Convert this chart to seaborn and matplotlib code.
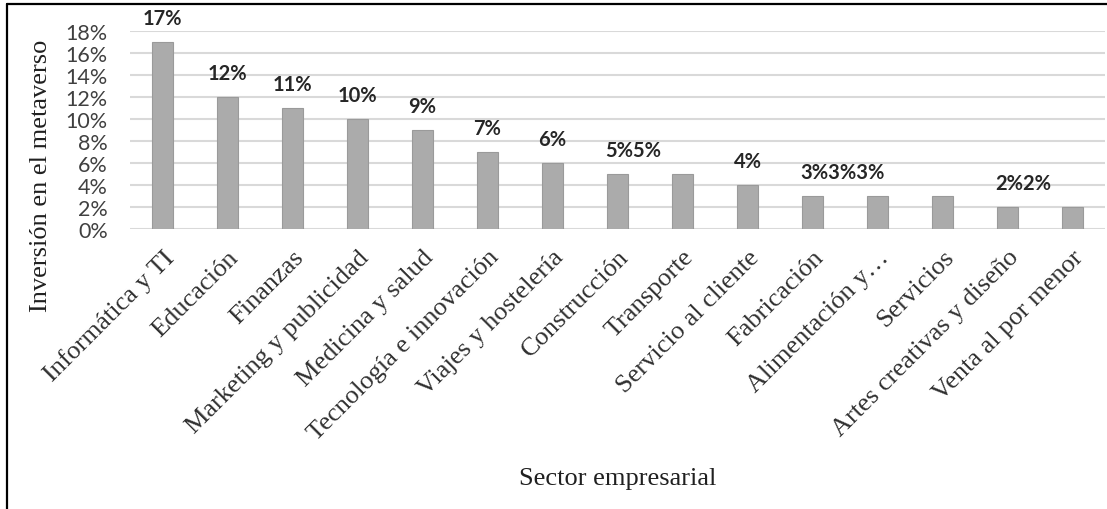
import matplotlib
matplotlib.use("Agg")
import matplotlib.pyplot as plt
import seaborn as sns
from matplotlib.lines import Line2D
from matplotlib.ticker import PercentFormatter

# --- Data ---
sectores = [
    'Informática y TI', 'Educación', 'Finanzas', 'Marketing y publicidad',
    'Medicina y salud', 'Tecnología e innovación', 'Viajes y hostelería',
    'Construcción', 'Transporte', 'Servicio al cliente', 'Fabricación',
    'Alimentación y…', 'Servicios', 'Artes creativas y diseño', 'Venta al por menor'
]
inversion = [17, 12, 11, 10, 9, 7, 6, 5, 5, 4, 3, 3, 3, 2, 2]
y_ticks = [0, 2, 4, 6, 8, 10, 12, 14, 16, 18]

BAR_COLOR = '#ABABAB'
GRID_COLOR = '#D9D9D9'
SERIF = 'Liberation Serif'

sns.set_theme(style="white")

fig = plt.figure(figsize=(11.07, 5.10), dpi=100)
ax = fig.add_axes([130 / 1107, 1 - 230 / 510, 975 / 1107, 198 / 510])

sns.barplot(x=sectores, y=inversion, color=BAR_COLOR, width=0.31,
            edgecolor='#9A9A9A', linewidth=0.8, saturation=1, ax=ax, zorder=3)

ax.set_xlim(-0.5, len(sectores) - 0.5)
ax.set_ylim(0, 18)
ax.set_yticks(y_ticks)
ax.yaxis.set_major_formatter(PercentFormatter(decimals=0))
ax.grid(axis='y', color=GRID_COLOR, linewidth=1.5, zorder=0)
ax.set_axisbelow(True)
for s in ax.spines.values():
    s.set_visible(False)
ax.tick_params(axis='both', length=0)
ax.tick_params(axis='y', pad=16)
ax.tick_params(axis='x', pad=12)

for lbl in ax.get_yticklabels():
    lbl.set_fontfamily('Lato')
    lbl.set_fontsize(15.5)
    lbl.set_color('#404040')

ax.set_xticks(range(len(sectores)))
ax.set_xticklabels(sectores, rotation=45, ha='right', rotation_mode='anchor',
                   fontfamily=SERIF, fontsize=19, color='#303030')

ax.set_ylabel('Inversión en el metaverso', fontfamily=SERIF,
              fontsize=19, color='#202020')
ax.yaxis.set_label_coords(-0.080, 0.273)
ax.set_xlabel('Sector empresarial', fontfamily=SERIF,
              fontsize=19, color='#202020')
ax.xaxis.set_label_coords(0.5, -1.20)

# data labels: runs of equal values are drawn run together, like the original
i = 0
while i < len(inversion):
    j = i
    while j + 1 < len(inversion) and inversion[j + 1] == inversion[i]:
        j += 1
    n = j - i + 1
    txt = f'{inversion[i]}%' * n
    if n == 1:
        ax.annotate(txt, (i, inversion[i]), xytext=(0, 17), textcoords='offset points',
                    ha='center', va='center', fontweight='bold', fontsize=14.5,
                    fontfamily='Lato', color='#262626', annotation_clip=False)
    else:
        ax.annotate(txt, (i, inversion[i]), xytext=(-9, 17), textcoords='offset points',
                    ha='left', va='center', fontweight='bold', fontsize=14.5,
                    fontfamily='Lato', color='#262626', annotation_clip=False)
    i = j + 1

# frame lines top and left of the picture
fig.add_artist(Line2D([7 / 1107, 1], [1 - 5 / 510, 1 - 5 / 510], color='black', linewidth=1.6,
                      transform=fig.transFigure))
fig.add_artist(Line2D([7 / 1107, 7 / 1107], [0, 1 - 5 / 510], color='black', linewidth=1.6,
                      transform=fig.transFigure))

fig.savefig('out.png', dpi=100, facecolor='white')
